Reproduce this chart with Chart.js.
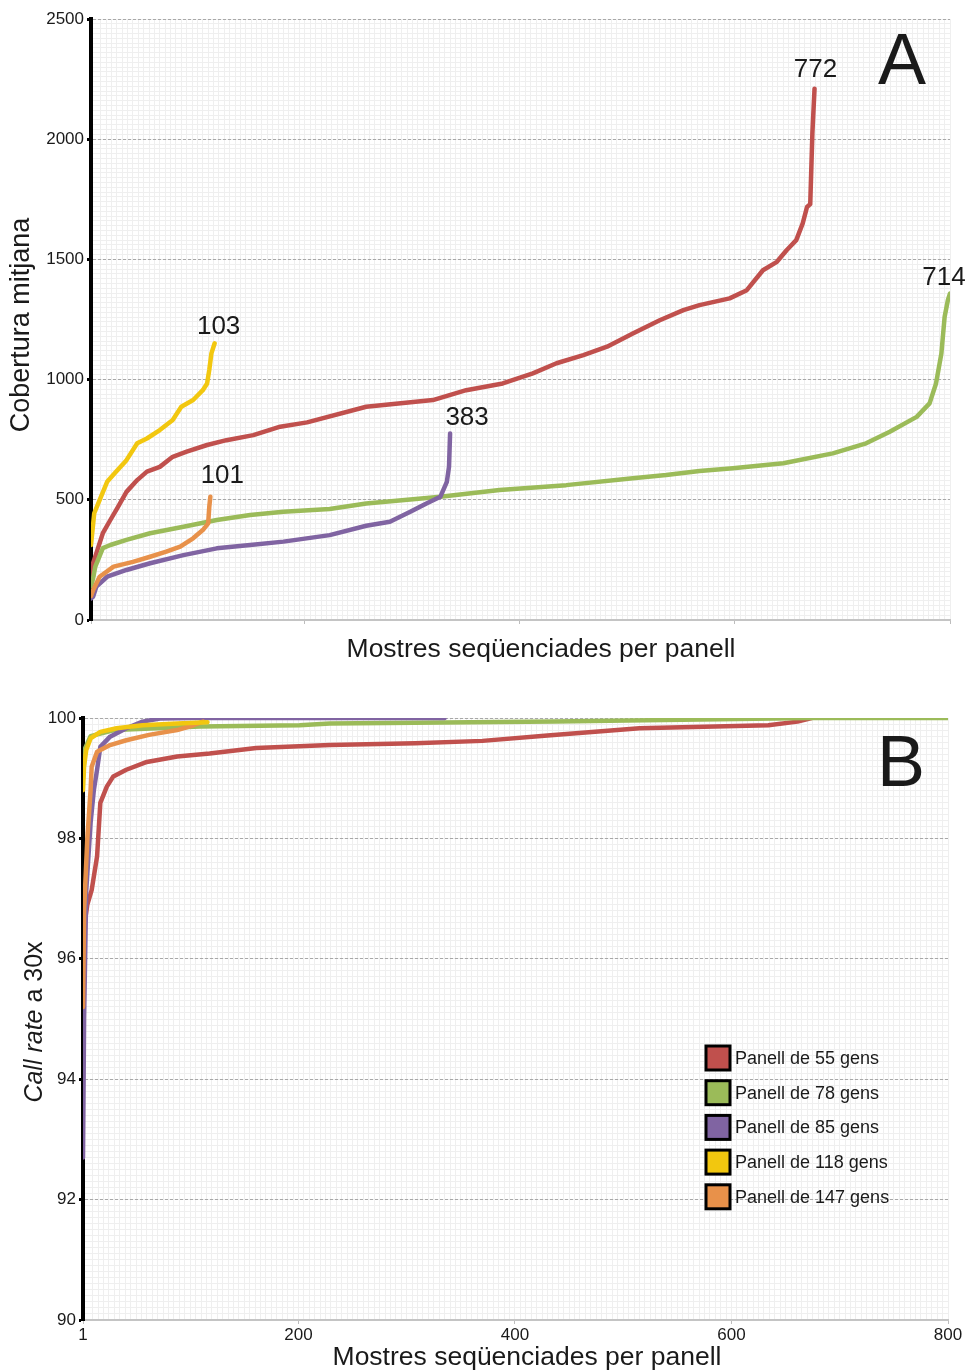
<!DOCTYPE html>
<html>
<head>
<meta charset="utf-8">
<script src="https://cdn.jsdelivr.net/npm/chart.js@4.4.1/dist/chart.umd.min.js"></script>
<style>
  html, body { margin: 0; padding: 0; background: #fff; }
  #wrap { position: relative; width: 967px; height: 1372px; overflow: hidden; }
  canvas { position: absolute; left: 0; }
  #chartA { top: 0; }
  #chartB { top: 680px; }
</style>
</head>
<body>
<div id="wrap">
  <canvas id="chartA" width="967" height="680"></canvas>
  <canvas id="chartB" width="967" height="692"></canvas>
</div>
<script>
// Panels (series) and their colours
const panels = ['Panell de 55 gens', 'Panell de 78 gens', 'Panell de 85 gens', 'Panell de 118 gens', 'Panell de 147 gens'];
const panelColors = ['#c0504d', '#9bbb59', '#8064a2', '#f2c70f', '#e8914a'];
// Numbers written at the end of each coverage curve
const endLabels = ['772', '714', '383', '103', '101'];

// Shared sample axis
const sampleTicks = [1, 200, 400, 600, 800];
const coverageTicks = [0, 500, 1000, 1500, 2000, 2500];
const callRateTicks = [90, 92, 94, 96, 98, 100];

// Mean coverage per sample (sorted), panel A
const covX55 = [1, 3, 6, 12, 19, 26, 34, 44, 53, 65, 77, 90, 109, 127, 152, 177, 202, 257, 319, 350, 384, 412, 434, 459, 481, 505, 530, 552, 567, 595, 611, 626, 639, 648, 657, 663, 667, 670, 672, 674];
const covY55 = [170, 237, 278, 361, 416, 470, 533, 582, 617, 637, 679, 700, 728, 748, 769, 804, 822, 887, 915, 956, 984, 1026, 1068, 1102, 1137, 1192, 1247, 1289, 1310, 1338, 1372, 1455, 1490, 1538, 1580, 1650, 1718, 1730, 2025, 2210];

const covX78 = [1, 3, 5, 12, 19, 34, 56, 87, 118, 149, 180, 223, 257, 326, 381, 443, 505, 536, 567, 598, 645, 691, 722, 744, 769, 781, 787, 792, 795, 798, 800];
const covY78 = [140, 174, 222, 299, 312, 333, 361, 388, 416, 437, 450, 462, 485, 513, 541, 561, 590, 603, 620, 631, 652, 693, 735, 783, 845, 901, 984, 1109, 1261, 1330, 1358];

const covX85 = [1, 3, 6, 16, 34, 56, 87, 118, 149, 180, 223, 257, 279, 298, 313, 326, 332, 334, 335];
const covY85 = [90, 97, 139, 180, 208, 236, 270, 298, 312, 326, 353, 392, 409, 450, 485, 513, 575, 637, 776];

const covX118 = [1, 4, 9, 16, 23, 34, 44, 53, 65, 77, 85, 96, 105, 109, 111, 113, 116];
const covY118 = [312, 444, 499, 575, 610, 665, 735, 755, 790, 832, 887, 915, 956, 984, 1040, 1109, 1151];

const covX147 = [1, 3, 9, 22, 40, 56, 71, 84, 96, 105, 110, 111, 112];
const covY147 = [100, 125, 180, 222, 242, 263, 284, 305, 340, 374, 402, 470, 513];

// Call rate at 30x per sample (sorted), panel B
const callX55 = [1, 5, 9, 14, 17, 23, 29, 41, 60, 88, 118, 161, 229, 308, 370, 430, 515, 634, 661, 674];
const callY55 = [96.4, 96.9, 97.14, 97.7, 98.59, 98.86, 99.03, 99.14, 99.27, 99.36, 99.41, 99.5, 99.55, 99.58, 99.62, 99.71, 99.83, 99.88, 99.94, 100];

const callX78 = [1, 3, 8, 30, 109, 201, 229, 437, 672, 800];
const callY78 = [99.0, 99.5, 99.7, 99.8, 99.86, 99.88, 99.91, 99.94, 100, 100];

const callX85 = [1, 2, 4, 8, 11, 14, 17, 26, 41, 56, 72, 100, 335];
const callY85 = [92.7, 95.0, 97.14, 98.26, 98.8, 99.14, 99.52, 99.69, 99.83, 99.94, 99.99, 100, 100];

const callX118 = [1, 2, 4, 8, 17, 32, 56, 88, 116];
const callY118 = [98.8, 99.2, 99.47, 99.66, 99.77, 99.83, 99.88, 99.91, 99.93];

const callX147 = [1, 2, 5, 8, 9, 14, 26, 41, 62, 88, 103, 112];
const callY147 = [95.2, 96.8, 98.0, 98.8, 99.19, 99.44, 99.55, 99.63, 99.72, 99.8, 99.88, 99.94];

const FONT = "'Liberation Sans', Arial, Helvetica, sans-serif";
const TEXT = '#1a1a1a';
// stacking: yellow on top, then orange, purple, green, red
const drawOrder = [4, 3, 2, 0, 1];

function buildDatasets(xs, ys) {
  return panels.map((name, i) => ({
    label: name,
    data: xs[i].map((x, j) => ({ x: x, y: ys[i][j] })),
    borderColor: panelColors[i],
    backgroundColor: panelColors[i],
    borderWidth: 4.5,
    pointRadius: 0,
    tension: 0,
    order: drawOrder[i],
    borderCapStyle: 'round',
    borderJoinStyle: 'round'
  }));
}

// Text drawn over each panel: axis titles, panel letter, end labels, legend
const panelText = {
  id: 'panelText',
  afterDatasetsDraw(chart, args, o) {
    const ctx = chart.ctx;
    ctx.save();
    ctx.fillStyle = TEXT;

    if (o.endLabels) {
      ctx.font = '26px ' + FONT;
      ctx.textAlign = 'center';
      ctx.textBaseline = 'alphabetic';
      chart.data.datasets.forEach((ds, i) => {
        const meta = chart.getDatasetMeta(i);
        const last = meta.data[meta.data.length - 1];
        const off = o.endLabelOffsets[i];
        ctx.fillText(o.endLabels[i], last.x + off[0], last.y + off[1]);
      });
    }

    ctx.font = '72px ' + FONT;
    ctx.textAlign = 'center';
    ctx.textBaseline = 'alphabetic';
    ctx.fillText(o.letter, o.letterX, o.letterY);

    ctx.font = '26.5px ' + FONT;
    ctx.textBaseline = 'middle';
    ctx.fillText(o.xTitle, o.xTitleX, o.xTitleY);

    // rotated y title, possibly with italic parts
    ctx.save();
    ctx.translate(o.yTitleX, o.yTitleY);
    ctx.rotate(-Math.PI / 2);
    ctx.textAlign = 'left';
    const fontFor = p => (p.italic ? 'italic ' : '') + o.yTitleSize + 'px ' + FONT;
    let total = 0;
    o.yTitle.forEach(p => {
      ctx.font = fontFor(p);
      total += ctx.measureText(p.text).width;
    });
    let cx = -total / 2;
    o.yTitle.forEach(p => {
      ctx.font = fontFor(p);
      ctx.fillText(p.text, cx, 0);
      cx += ctx.measureText(p.text).width;
    });
    ctx.restore();

    if (o.legend) {
      const L = o.legend;
      ctx.font = '18px ' + FONT;
      ctx.textAlign = 'left';
      ctx.textBaseline = 'middle';
      chart.data.datasets.forEach((ds, i) => {
        const cy = L.y + i * L.gap;
        ctx.fillStyle = ds.borderColor;
        ctx.fillRect(L.x, cy - L.box / 2, L.box, L.box);
        ctx.lineWidth = 3;
        ctx.strokeStyle = '#000';
        ctx.strokeRect(L.x, cy - L.box / 2, L.box, L.box);
        ctx.fillStyle = TEXT;
        ctx.fillText(ds.label, L.x + L.box + 5, cy + 1);
      });
    }
    ctx.restore();
  }
};

function scalesFor(cfg) {
  return {
    xMinor: {
      type: 'linear', position: 'top', min: 1, max: 800, z: -1,
      ticks: { display: false, stepSize: 5 },
      grid: { color: '#efefef', drawTicks: false },
      border: { display: false },
      afterFit: s => { s.height = 0; }
    },
    yMinor: {
      type: 'linear', position: 'right', min: cfg.yMin, max: cfg.yMax, z: -1,
      ticks: { display: false, stepSize: cfg.yMinorStep },
      grid: { color: '#efefef', drawTicks: false },
      border: { display: false },
      afterFit: s => { s.width = 0; }
    },
    x: {
      type: 'linear', position: 'bottom', min: 1, max: 800,
      afterBuildTicks: s => { s.ticks = sampleTicks.map(v => ({ value: v })); },
      ticks: {
        display: cfg.xLabels, color: TEXT, padding: 1, maxRotation: 0, autoSkip: false,
        font: { family: FONT, size: 17 }, callback: v => String(v)
      },
      grid: { drawOnChartArea: false, drawTicks: true, tickLength: 4, color: '#bdbdbd' },
      border: { color: '#c4c4c4', width: 2 },
      afterFit: s => { s.height = cfg.xHeight; }
    },
    y: {
      type: 'linear', position: 'left', min: cfg.yMin, max: cfg.yMax,
      afterBuildTicks: s => { s.ticks = cfg.yTicks.map(v => ({ value: v })); },
      ticks: {
        color: TEXT, padding: 3, autoSkip: false,
        font: { family: FONT, size: 17 }, callback: v => String(v)
      },
      grid: { color: '#a8a8a8', lineWidth: 1, tickColor: '#000', tickLength: 4, tickWidth: 3 },
      border: { color: '#000', width: 4, dash: [3, 2] },
      afterFit: s => { s.width = cfg.yWidth; }
    }
  };
}

new Chart(document.getElementById('chartA'), {
  type: 'line',
  data: {
    datasets: buildDatasets(
      [covX55, covX78, covX85, covX118, covX147],
      [covY55, covY78, covY85, covY118, covY147])
  },
  plugins: [panelText],
  options: {
    responsive: false,
    animation: false,
    layout: { padding: { left: 0, top: 19, right: 17, bottom: 0 } },
    scales: scalesFor({ yMin: 0, yMax: 2500, yTicks: coverageTicks, yMinorStep: 20, yWidth: 91, xHeight: 60, xLabels: false }),
    plugins: {
      legend: { display: false },
      tooltip: { enabled: false },
      panelText: {
        endLabels: endLabels,
        endLabelOffsets: [[1, -12], [-6, -9], [17, -8], [4, -9], [12, -14]],
        letter: 'A', letterX: 902, letterY: 84,
        xTitle: 'Mostres seqüenciades per panell', xTitleX: 541, xTitleY: 650,
        yTitle: [{ text: 'Cobertura mitjana', italic: false }], yTitleSize: 27, yTitleX: 22, yTitleY: 325
      }
    }
  }
});

new Chart(document.getElementById('chartB'), {
  type: 'line',
  data: {
    datasets: buildDatasets(
      [callX55, callX78, callX85, callX118, callX147],
      [callY55, callY78, callY85, callY118, callY147])
  },
  plugins: [panelText],
  options: {
    responsive: false,
    animation: false,
    layout: { padding: { left: 0, top: 38, right: 19, bottom: 0 } },
    scales: scalesFor({ yMin: 90, yMax: 100, yTicks: callRateTicks, yMinorStep: 0.1, yWidth: 83, xHeight: 52, xLabels: true }),
    plugins: {
      legend: { display: false },
      tooltip: { enabled: false },
      panelText: {
        endLabels: null,
        letter: 'B', letterX: 901, letterY: 106,
        xTitle: 'Mostres seqüenciades per panell', xTitleX: 527, xTitleY: 678,
        yTitle: [{ text: 'Call rate', italic: true }, { text: ' a 30x', italic: false }], yTitleSize: 25, yTitleX: 35, yTitleY: 342,
        legend: { x: 706, y: 378, gap: 34.7, box: 24 }
      }
    }
  }
});
</script>
</body>
</html>
